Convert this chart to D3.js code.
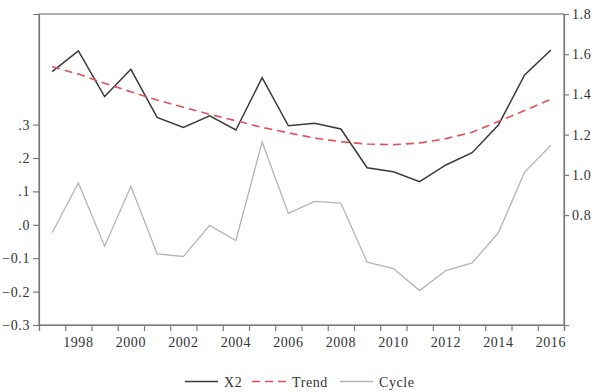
<!DOCTYPE html>
<html><head><meta charset="utf-8">
<script src="https://cdn.jsdelivr.net/npm/d3@7"></script>
<style>
html,body{margin:0;padding:0;background:#fff;}
svg text{font-family:"Liberation Serif","Times New Roman",serif;fill:#333;}
</style></head>
<body>
<svg id="chart" width="598" height="392"></svg>
<script>
const years = [1997,1998,1999,2000,2001,2002,2003,2004,2005,2006,2007,2008,2009,2010,2011,2012,2013,2014,2015,2016];
const x2    = [1.513,1.617,1.389,1.525,1.286,1.236,1.293,1.223,1.483,1.244,1.256,1.228,1.035,1.015,0.966,1.049,1.110,1.248,1.497,1.621];
const trend = [1.538,1.501,1.455,1.413,1.372,1.336,1.301,1.269,1.236,1.209,1.183,1.165,1.153,1.150,1.158,1.180,1.212,1.265,1.320,1.376];
const cycle = [-0.024,0.125,-0.064,0.115,-0.087,-0.095,-0.002,-0.047,0.248,0.034,0.070,0.065,-0.112,-0.131,-0.197,-0.137,-0.114,-0.024,0.158,0.238];
const leftTicks = [-0.3,-0.2,-0.1,0.0,0.1,0.2,0.3];
const rightTicks = [0.8,1.0,1.2,1.4,1.6,1.8];
const yearLabels = [1998,2000,2002,2004,2006,2008,2010,2012,2014,2016];

const L = 39, R = 564, T = 14, B = 325;
const svg = d3.select("#chart");

const x = d3.scaleLinear().domain([1996.5, 2016.5]).range([L, R]);
const yL = d3.scaleLinear().domain([-0.3, 0.631]).range([B, T]);
const yR = d3.scaleLinear().domain([0.253, 1.8]).range([B, T]);

const axisColor = "#7a7a7a";

// frame
svg.append("rect").attr("x", L).attr("y", T).attr("width", R - L).attr("height", B - T)
  .attr("fill", "none").attr("stroke", axisColor).attr("stroke-width", 1.2);

function fmtLeft(v){
  const s = d3.format(".1f")(v);
  return s.replace(/^(-?)0\./, "$1.");
}

// left axis
const gL = svg.append("g").attr("transform", `translate(${L},0)`)
  .call(d3.axisLeft(yL).tickValues(leftTicks).tickSize(6).tickPadding(3).tickFormat(fmtLeft));
// right axis
const gR = svg.append("g").attr("transform", `translate(${R},0)`)
  .call(d3.axisRight(yR).tickValues(rightTicks).tickSize(5).tickPadding(3).tickFormat(d3.format(".1f")));
// bottom axis: ticks at year boundaries
const boundaries = years.map(y => y - 0.5).concat([years[years.length-1] + 0.5]);
const gB = svg.append("g").attr("transform", `translate(0,${B})`)
  .call(d3.axisBottom(x).tickValues(boundaries).tickSize(6).tickFormat(""));
svg.append("g").selectAll("text").data(yearLabels).join("text")
  .attr("x", d => x(d)).attr("y", B + 22).attr("text-anchor", "middle")
  .attr("font-size", 14).attr("letter-spacing", 0.6).text(d => d);

[gL, gR, gB].forEach(g => {
  g.select(".domain").attr("stroke", axisColor).attr("stroke-width", 1.2);
  g.selectAll(".tick line").attr("stroke", axisColor).attr("stroke-width", 1.2);
  g.selectAll(".tick text").attr("font-size", 14).attr("fill", "#333")
    .attr("font-family", "Liberation Serif, Times New Roman, serif").attr("letter-spacing", 0.6);
});

// lines
const lineR = d3.line().x((d, i) => x(years[i])).y(d => yR(d));
const lineL = d3.line().x((d, i) => x(years[i])).y(d => yL(d));

svg.append("path").datum(cycle).attr("d", lineL).attr("fill", "none")
  .attr("stroke", "#b4b4b4").attr("stroke-width", 1.3);
svg.append("path").datum(x2).attr("d", lineR).attr("fill", "none")
  .attr("stroke", "#3a3a3a").attr("stroke-width", 1.5).attr("stroke-linejoin", "miter");
svg.append("path").datum(trend).attr("d", lineR).attr("fill", "none")
  .attr("stroke", "#e0505a").attr("stroke-width", 1.6).attr("stroke-dasharray", "8,5");

// legend
const leg = svg.append("g");
const ly = 381.5;
const items = [
  {name: "X2", x0: 185, x1: 218, tx: 224, color: "#3a3a3a", dash: null, w: 1.5},
  {name: "Trend", x0: 252, x1: 287, tx: 292, color: "#e0505a", dash: "8,5", w: 1.6},
  {name: "Cycle", x0: 340, x1: 373, tx: 379, color: "#b4b4b4", dash: null, w: 1.3}
];
items.forEach(it => {
  leg.append("line").attr("x1", it.x0).attr("x2", it.x1).attr("y1", ly).attr("y2", ly)
    .attr("stroke", it.color).attr("stroke-width", it.w).attr("stroke-dasharray", it.dash);
  leg.append("text").attr("x", it.tx).attr("y", ly + 5).attr("font-size", 14)
    .attr("letter-spacing", 0.6).text(it.name);
});
</script>
</body></html>
